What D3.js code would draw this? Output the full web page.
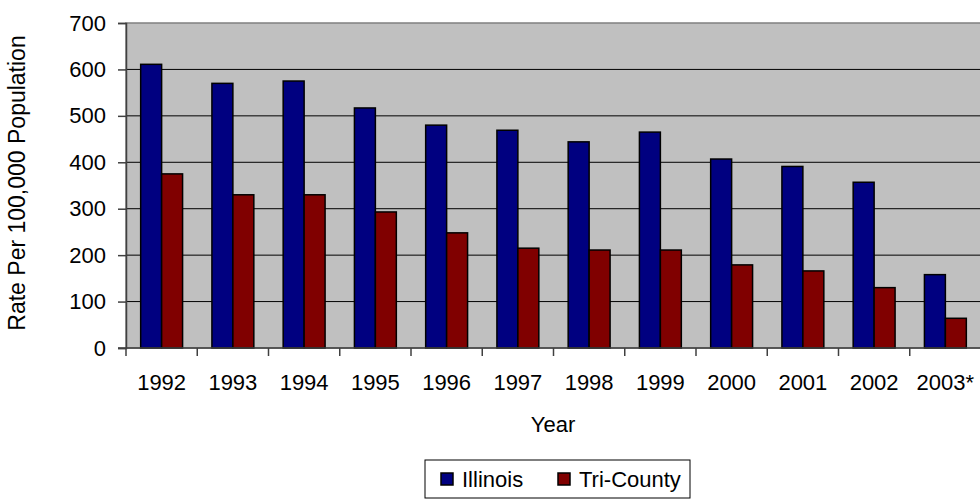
<!DOCTYPE html>
<html>
<head>
<meta charset="utf-8">
<script src="https://cdn.jsdelivr.net/npm/d3@7"></script>
<style>
  body { margin: 0; background: #fff; }
  svg { display: block; font-family: "Liberation Sans", Arial, sans-serif; }
</style>
</head>
<body>
<svg width="980" height="502"></svg>
<script>
// données
const years = ["1992","1993","1994","1995","1996","1997","1998","1999","2000","2001","2002","2003*"];
const series = ["Illinois","Tri-County"];
const illinois = [611,570,575,517,480,469,444,465,407,391,357,158];
const triCounty = [375,330,330,293,248,215,211,211,179,166,130,64];
const yTicks = [0,100,200,300,400,500,600,700];
const colors = ["#000080","#800000"];

const svg = d3.select("svg");
const plotL = 126, plotR = 981, plotT = 23, plotB = 348;

const x0 = d3.scaleBand().domain(years).range([plotL, plotR]).padding(0);
const x1 = d3.scaleBand().domain(series).range([0, x0.bandwidth()])
             .paddingInner(0).paddingOuter(0.7);
const y = d3.scaleLinear().domain([0,700]).range([plotB, plotT]);

// fond gris de la zone de tracé
svg.append("rect")
   .attr("x", plotL).attr("y", plotT)
   .attr("width", plotR-plotL).attr("height", plotB-plotT)
   .attr("fill", "#c0c0c0")
   .attr("stroke", "#808080").attr("stroke-width", 1.5);

// grille horizontale
svg.append("g").selectAll("line")
   .data(yTicks.filter(d => d>0 && d<700))
   .enter().append("line")
   .attr("x1", plotL).attr("x2", plotR)
   .attr("y1", d => y(d)).attr("y2", d => y(d))
   .attr("stroke", "#000").attr("stroke-width", 1);

// barres
const rows = years.map((yr,i) => ({year: yr, vals: [illinois[i], triCounty[i]]}));
svg.append("g").selectAll("g")
   .data(rows)
   .enter().append("g")
   .attr("transform", d => `translate(${x0(d.year)},0)`)
   .selectAll("rect")
   .data(d => d.vals.map((v,k) => ({s: series[k], v: v, k: k})))
   .enter().append("rect")
   .attr("x", d => x1(d.s))
   .attr("width", x1.bandwidth())
   .attr("y", d => y(d.v))
   .attr("height", d => y(0)-y(d.v))
   .attr("fill", d => colors[d.k])
   .attr("stroke", "#000").attr("stroke-width", 1.5);

// axe Y
const yAxis = svg.append("g")
   .attr("transform", `translate(${plotL},0)`)
   .call(d3.axisLeft(y).tickValues(yTicks).tickSize(8).tickPadding(12).tickFormat(d3.format("d")));
yAxis.select(".domain").attr("stroke", "#404040").attr("stroke-width", 1.5);
yAxis.selectAll(".tick line").attr("stroke", "#404040").attr("stroke-width", 1.5);
yAxis.selectAll("text").attr("font-size", 22).attr("fill", "#000")
     .style("font-family", "Liberation Sans, Arial, sans-serif");

// axe X (graduations entre les catégories)
const bounds = years.map(d => x0(d)).concat([plotR]);
svg.append("line")
   .attr("x1", plotL-8).attr("x2", plotR)
   .attr("y1", plotB).attr("y2", plotB)
   .attr("stroke", "#404040").attr("stroke-width", 1.5);
svg.append("g").selectAll("line")
   .data(bounds)
   .enter().append("line")
   .attr("x1", d => d).attr("x2", d => d)
   .attr("y1", plotB).attr("y2", plotB+8)
   .attr("stroke", "#404040").attr("stroke-width", 1.5);
svg.append("g").selectAll("text")
   .data(years)
   .enter().append("text")
   .attr("x", d => x0(d) + x0.bandwidth()/2)
   .attr("y", 390)
   .attr("text-anchor", "middle")
   .attr("font-size", 22)
   .text(d => d);

// titres des axes
svg.append("text")
   .attr("x", 553).attr("y", 432)
   .attr("text-anchor", "middle")
   .attr("font-size", 22)
   .text("Year");
svg.append("text")
   .attr("transform", "translate(25,183) rotate(-90)")
   .attr("text-anchor", "middle")
   .attr("font-size", 23)
   .text("Rate Per 100,000 Population");

// légende
const leg = svg.append("g");
leg.append("rect")
   .attr("x", 425).attr("y", 460).attr("width", 265).attr("height", 38)
   .attr("fill", "#fff").attr("stroke", "#000").attr("stroke-width", 1);
const legX = [441, 558];
series.forEach((s,k) => {
  leg.append("rect")
     .attr("x", legX[k]).attr("y", 473).attr("width", 12).attr("height", 12)
     .attr("fill", colors[k]).attr("stroke", "#000").attr("stroke-width", 1.5);
  leg.append("text")
     .attr("x", legX[k]+21).attr("y", 487)
     .attr("font-size", 22)
     .text(s);
});
</script>
</body>
</html>
